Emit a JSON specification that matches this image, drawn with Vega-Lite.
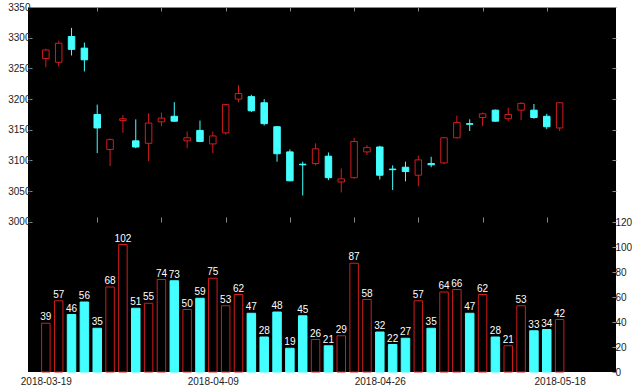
{
  "$schema": "https://vega.github.io/schema/vega-lite/v6.json",
  "width": 588,
  "height": 365,
  "autosize": {"type": "none"},
  "padding": {"left": 28, "top": 7, "right": 24, "bottom": 20},
  "background": "white",
  "config": {
    "view": {"fill": "black", "stroke": null},
    "axis": {"labelFont": "Liberation Sans", "labelFontSize": 10, "labelColor": "#222", "tickColor": "#888", "domain": false, "grid": false, "title": null},
    "text": {"font": "Liberation Sans"}
  },
  "data": {"values": [
    {"i": 0, "date": "2018-03-19", "open": 3266, "high": 3282, "low": 3252, "close": 3280, "vol": 39},
    {"i": 1, "date": "2018-03-20", "open": 3260, "high": 3295, "low": 3253, "close": 3291, "vol": 57},
    {"i": 2, "date": "2018-03-21", "open": 3302, "high": 3316, "low": 3271, "close": 3281, "vol": 46},
    {"i": 3, "date": "2018-03-22", "open": 3283, "high": 3292, "low": 3245, "close": 3264, "vol": 56},
    {"i": 4, "date": "2018-03-23", "open": 3175, "high": 3191, "low": 3112, "close": 3153, "vol": 35},
    {"i": 5, "date": "2018-03-26", "open": 3118, "high": 3136, "low": 3091, "close": 3134, "vol": 68},
    {"i": 6, "date": "2018-03-27", "open": 3165, "high": 3174, "low": 3145, "close": 3168, "vol": 102},
    {"i": 7, "date": "2018-03-28", "open": 3132, "high": 3167, "low": 3120, "close": 3122, "vol": 51},
    {"i": 8, "date": "2018-03-29", "open": 3128, "high": 3177, "low": 3099, "close": 3161, "vol": 55},
    {"i": 9, "date": "2018-03-30", "open": 3163, "high": 3178, "low": 3156, "close": 3169, "vol": 74},
    {"i": 10, "date": "2018-04-02", "open": 3172, "high": 3195, "low": 3163, "close": 3164, "vol": 73},
    {"i": 11, "date": "2018-04-03", "open": 3132, "high": 3147, "low": 3120, "close": 3137, "vol": 50},
    {"i": 12, "date": "2018-04-04", "open": 3149, "high": 3165, "low": 3130, "close": 3131, "vol": 59},
    {"i": 13, "date": "2018-04-09", "open": 3127, "high": 3147, "low": 3112, "close": 3140, "vol": 75},
    {"i": 14, "date": "2018-04-10", "open": 3145, "high": 3192, "low": 3142, "close": 3191, "vol": 53},
    {"i": 15, "date": "2018-04-11", "open": 3200, "high": 3223, "low": 3195, "close": 3209, "vol": 62},
    {"i": 16, "date": "2018-04-12", "open": 3204, "high": 3207, "low": 3179, "close": 3181, "vol": 47},
    {"i": 17, "date": "2018-04-13", "open": 3194, "high": 3200, "low": 3157, "close": 3160, "vol": 28},
    {"i": 18, "date": "2018-04-16", "open": 3155, "high": 3156, "low": 3098, "close": 3111, "vol": 48},
    {"i": 19, "date": "2018-04-17", "open": 3114, "high": 3118, "low": 3066, "close": 3067, "vol": 19},
    {"i": 20, "date": "2018-04-18", "open": 3094, "high": 3098, "low": 3043, "close": 3093, "vol": 45},
    {"i": 21, "date": "2018-04-19", "open": 3095, "high": 3128, "low": 3092, "close": 3119, "vol": 26},
    {"i": 22, "date": "2018-04-20", "open": 3107, "high": 3113, "low": 3068, "close": 3072, "vol": 21},
    {"i": 23, "date": "2018-04-23", "open": 3065, "high": 3087, "low": 3048, "close": 3070, "vol": 29},
    {"i": 24, "date": "2018-04-24", "open": 3072, "high": 3137, "low": 3070, "close": 3131, "vol": 87},
    {"i": 25, "date": "2018-04-25", "open": 3114, "high": 3125, "low": 3109, "close": 3121, "vol": 58},
    {"i": 26, "date": "2018-04-26", "open": 3122, "high": 3124, "low": 3069, "close": 3076, "vol": 32},
    {"i": 27, "date": "2018-04-27", "open": 3086, "high": 3092, "low": 3052, "close": 3085, "vol": 22},
    {"i": 28, "date": "2018-05-02", "open": 3089, "high": 3098, "low": 3066, "close": 3082, "vol": 27},
    {"i": 29, "date": "2018-05-03", "open": 3076, "high": 3108, "low": 3058, "close": 3101, "vol": 57},
    {"i": 30, "date": "2018-05-04", "open": 3095, "high": 3106, "low": 3089, "close": 3093, "vol": 35},
    {"i": 31, "date": "2018-05-07", "open": 3096, "high": 3138, "low": 3094, "close": 3137, "vol": 64},
    {"i": 32, "date": "2018-05-08", "open": 3137, "high": 3173, "low": 3136, "close": 3162, "vol": 66},
    {"i": 33, "date": "2018-05-09", "open": 3160, "high": 3167, "low": 3148, "close": 3159, "vol": 47},
    {"i": 34, "date": "2018-05-10", "open": 3170, "high": 3178, "low": 3156, "close": 3176, "vol": 62},
    {"i": 35, "date": "2018-05-11", "open": 3182, "high": 3183, "low": 3163, "close": 3164, "vol": 28},
    {"i": 36, "date": "2018-05-14", "open": 3168, "high": 3186, "low": 3164, "close": 3175, "vol": 21},
    {"i": 37, "date": "2018-05-15", "open": 3182, "high": 3195, "low": 3166, "close": 3193, "vol": 53},
    {"i": 38, "date": "2018-05-16", "open": 3182, "high": 3192, "low": 3168, "close": 3170, "vol": 33},
    {"i": 39, "date": "2018-05-17", "open": 3172, "high": 3176, "low": 3151, "close": 3155, "vol": 34},
    {"i": 40, "date": "2018-05-18", "open": 3153, "high": 3195, "low": 3148, "close": 3194, "vol": 42}
  ]},
  "layer": [
    {
      "layer": [
        {
          "mark": {"type": "rule", "strokeWidth": 1},
          "encoding": {
            "x": {"field": "i", "type": "quantitative", "scale": {"domain": [-1, 44], "nice": false, "zero": false},
                  "axis": {"orient": "top", "values": [4, 9, 14, 19, 24, 29, 34, 39], "labels": false, "tickSize": -4, "domain": true, "domainColor": "#888"}},
            "y": {"field": "low", "type": "quantitative", "scale": {"domain": [2755.5, 3350], "nice": false, "zero": false},
                  "axis": {"orient": "left", "values": [3000, 3050, 3100, 3150, 3200, 3250, 3300, 3350], "format": "d", "tickSize": -4, "labelPadding": 2}},
            "y2": {"field": "high"},
            "color": {"condition": {"test": "datum.close > datum.open", "value": "#d41c1c"}, "value": "#44ffff"}
          }
        },
        {
          "mark": {"type": "bar", "width": 6.5, "strokeWidth": 1},
          "encoding": {
            "x": {"field": "i", "type": "quantitative", "scale": {"domain": [-1, 44], "nice": false, "zero": false},
                  "axis": {"orient": "bottom", "offset": -150, "values": [4, 9, 14, 19, 24, 29, 34, 39], "labels": false, "tickSize": -5}},
            "y": {"field": "open", "type": "quantitative",
                  "axis": {"orient": "right", "values": [3050, 3100, 3150, 3200, 3250, 3300], "labels": false, "tickSize": -4}},
            "y2": {"field": "close"},
            "fill": {"condition": {"test": "datum.close > datum.open", "value": "black"}, "value": "#44ffff"},
            "stroke": {"condition": {"test": "datum.close > datum.open", "value": "#d41c1c"}, "value": "#44ffff"}
          }
        }
      ],
      "resolve": {"axis": {"x": "independent", "y": "independent"}}
    },
    {
      "layer": [
        {
          "mark": {"type": "bar", "width": 8.5, "strokeWidth": 1},
          "encoding": {
            "x": {"field": "i", "type": "quantitative", "scale": {"domain": [-1, 44], "nice": false, "zero": false},
                  "axis": {"orient": "bottom", "values": [0, 13, 26, 40], "ticks": false, "labelPadding": 4,
                           "labelExpr": "datum.value == 0 ? '2018-03-19' : datum.value == 13 ? '2018-04-09' : datum.value == 26 ? '2018-04-26' : '2018-05-18'"}},
            "y": {"field": "vol", "type": "quantitative", "scale": {"domain": [0, 292], "nice": false},
                  "axis": {"orient": "right", "values": [0, 20, 40, 60, 80, 100, 120], "tickSize": -4, "labelPadding": 3}},
            "fill": {"condition": {"test": "datum.close > datum.open", "value": "black"}, "value": "#44ffff"},
            "stroke": {"condition": {"test": "datum.close > datum.open", "value": "#d41c1c"}, "value": "#44ffff"}
          }
        },
        {
          "mark": {"type": "text", "color": "white", "fontSize": 10, "baseline": "alphabetic", "dy": -3},
          "encoding": {
            "x": {"field": "i", "type": "quantitative"},
            "y": {"field": "vol", "type": "quantitative"},
            "text": {"field": "vol", "type": "quantitative"}
          }
        }
      ]
    }
  ],
  "resolve": {"scale": {"y": "independent"}, "axis": {"x": "independent", "y": "independent"}}
}
